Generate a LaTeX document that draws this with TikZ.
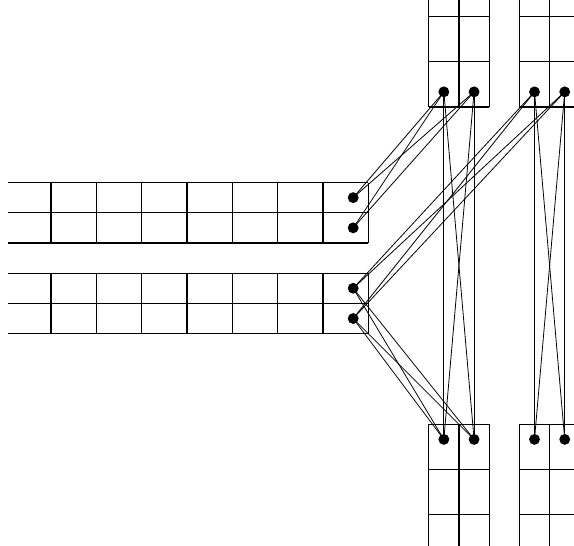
\documentclass[tikz,border=0pt]{standalone}
\begin{document}
\begin{tikzpicture}[
        cellline/.style={line width=0.7pt},
        wire/.style={line width=0.5pt},
        port/.style={
            circle,
            fill=black,
            minimum size=2.4mm,
            inner sep=0pt
        }
    ]

    \useasboundingbox (-0.125,-4.685) rectangle (12.538,7.36);
    \clip (-0.125,-4.685) rectangle (12.538,7.36);

    % horizontal arrays on the left
    \foreach \y in {0,2/3,4/3,2,8/3,10/3}
        \draw[cellline] (0.06,\y) -- (8,\y);
    \foreach \x in {1,...,8} {
        \draw[cellline] (\x,0) -- (\x,4/3);
        \draw[cellline] (\x,2) -- (\x,10/3);
    }

    % vertical arrays, top and bottom
    \foreach \x in {28/3,10,32/3,34/3,12,38/3} {
        \draw[cellline] (\x,5) -- (\x,7.5);
        \draw[cellline] (\x,-2) -- (\x,-5);
    }
    \foreach \y in {5,6,7,-2,-3,-4} {
        \draw[cellline] (28/3,\y) -- (32/3,\y);
        \draw[cellline] (34/3,\y) -- (38/3,\y);
    }

    \node[port] (u1) at (23/3,3) {};
    \node[port] (u2) at (23/3,7/3) {};
    \node[port] (l1) at (23/3,1) {};
    \node[port] (l2) at (23/3,1/3) {};

    \node[port] (a1) at (29/3,16/3) {};
    \node[port] (a2) at (31/3,16/3) {};
    \node[port] (b1) at (35/3,16/3) {};
    \node[port] (b2) at (37/3,16/3) {};

    \node[port] (c1) at (29/3,-7/3) {};
    \node[port] (c2) at (31/3,-7/3) {};
    \node[port] (d1) at (35/3,-7/3) {};
    \node[port] (d2) at (37/3,-7/3) {};

    \draw[wire] (u1.center)--(a1.center);
    \draw[wire] (u1.center)--(a2.center);
    \draw[wire] (u2.center)--(a1.center);
    \draw[wire] (u2.center)--(a2.center);

    \draw[wire] (l1.center)--(b1.center);
    \draw[wire] (l1.center)--(b2.center);
    \draw[wire] (l2.center)--(b1.center);
    \draw[wire] (l2.center)--(b2.center);

    \draw[wire] (l1.center)--(c1.center);
    \draw[wire] (l1.center)--(c2.center);
    \draw[wire] (l2.center)--(c1.center);
    \draw[wire] (l2.center)--(c2.center);

    \draw[wire] (a1.center)--(c1.center);
    \draw[wire] (a1.center)--(c2.center);
    \draw[wire] (a2.center)--(c1.center);
    \draw[wire] (a2.center)--(c2.center);

    \draw[wire] (b1.center)--(d1.center);
    \draw[wire] (b1.center)--(d2.center);
    \draw[wire] (b2.center)--(d1.center);
    \draw[wire] (b2.center)--(d2.center);

    \end{tikzpicture}
\end{document}
